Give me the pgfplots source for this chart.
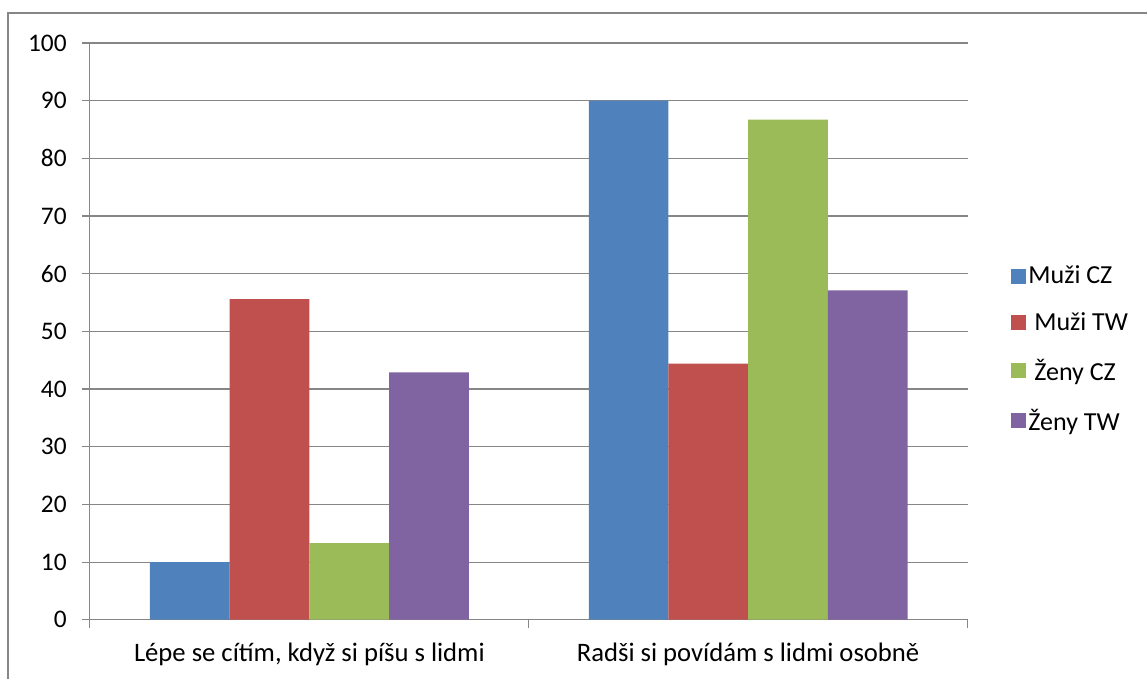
\documentclass[border=0pt]{standalone}
\usepackage{fontspec}
\setmainfont{Carlito}
\usepackage{pgfplots}
\pgfplotsset{compat=1.18}
\definecolor{cblue}{HTML}{4F81BD}
\definecolor{cred}{HTML}{C0504D}
\definecolor{cgreen}{HTML}{9BBB59}
\definecolor{cpurple}{HTML}{8064A2}
\definecolor{gridgray}{HTML}{868686}
\begin{document}
\begin{tikzpicture}
\begin{axis}[
  at={(0pt,0pt)}, anchor=south west,
  width=658.5pt, height=432.75pt, scale only axis,
  ymin=0, ymax=100, ytick={0,10,...,100},
  xmin=-0.5, xmax=1.5,
  xtick={0,1},
  xticklabels={{Lépe se cítím, když si píšu s lidmi}, {Radši si povídám s lidmi osobně}},
  minor xtick={-0.5,0.5,1.5},
  ybar=0pt, bar width=59.8pt,
  axis lines=left,
  axis line style={-, draw=gridgray, line width=0.8pt},
  ymajorgrids,
  major grid style={draw=gridgray, line width=0.8pt},
  tick align=outside,
  major tick length=6pt, minor tick length=6pt,
  ytick style={draw=gridgray, line width=0.8pt},
  xtick style={draw=none},
  minor x tick style={draw=gridgray, line width=0.8pt},
  /pgf/number format/assume math mode=true,
  yticklabel style={font=\fontsize{19}{22}\selectfont, anchor=east, xshift=-8pt},
  xticklabel style={font=\fontsize{20}{24}\selectfont, anchor=center, yshift=-20pt},
  legend style={draw=none, fill=none, at={(1.049,0.469)}, anchor=west,
    font=\fontsize{19.5}{23}\selectfont, row sep=16pt,
    legend cell align=left, inner sep=0pt},
  legend image code/.code={\fill[#1] (0pt,-5.6pt) rectangle (11.2pt,5.6pt);},
]
\addplot[fill=cblue, draw=none] coordinates {(0,10) (1,90)};
\addplot[fill=cred, draw=none] coordinates {(0,55.6) (1,44.4)};
\addplot[fill=cgreen, draw=none] coordinates {(0,13.3) (1,86.7)};
\addplot[fill=cpurple, draw=none] coordinates {(0,42.9) (1,57.1)};
\legend{Muži CZ,{\ Muži TW},{\ Ženy CZ},Ženy TW}
\end{axis}
\draw[gridgray, line width=0.8pt] (-61.5pt,-44.25pt) -- (-61.5pt,455.25pt) -- (793.5pt,455.25pt);
\path[use as bounding box] (-67.5pt,-44.25pt) rectangle (793.5pt,465pt);
\end{tikzpicture}
\end{document}
